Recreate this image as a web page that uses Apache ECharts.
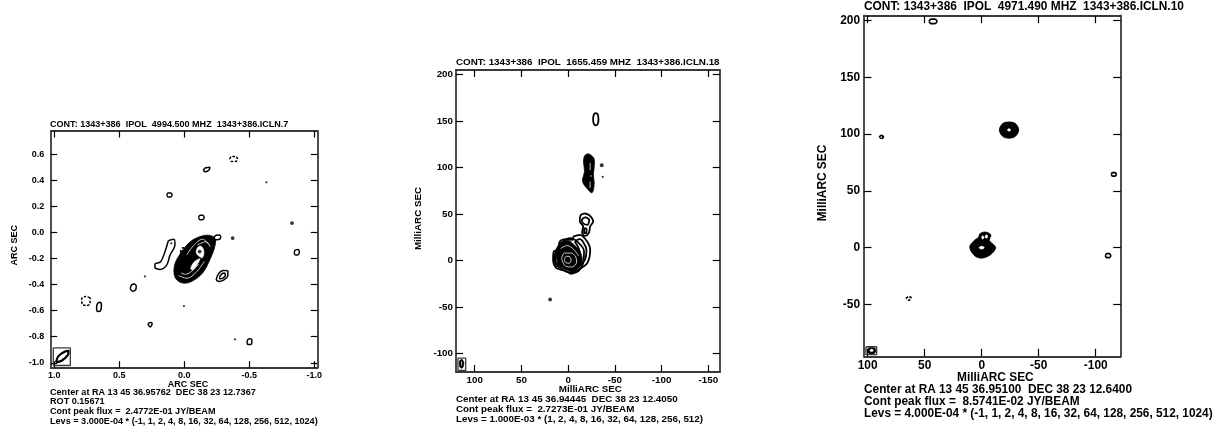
<!DOCTYPE html>
<html><head><meta charset="utf-8">
<style>html,body{margin:0;padding:0;background:#fff}#c{width:1219px;height:432px}</style>
<script src="https://cdn.jsdelivr.net/npm/echarts@6/dist/echarts.min.js"></script>
</head><body><div id="c"></div>
<script>
// ---------- tick values ----------
const p1XTicks = [1.0, 0.5, 0.0, -0.5, -1.0];
const p1YTicks = [0.6, 0.4, 0.2, 0.0, -0.2, -0.4, -0.6, -0.8, -1.0];
const p2XTicks = [100, 50, 0, -50, -100, -150];
const p2YTicks = [200, 150, 100, 50, 0, -50, -100];
const p3XTicks = [100, 50, 0, -50, -100];
const p3YTicks = [200, 150, 100, 50, 0, -50];

// ---------- text ----------
const p1Title = 'CONT: 1343+386  IPOL  4994.500 MHZ  1343+386.ICLN.7';
const p2Title = 'CONT: 1343+386  IPOL  1655.459 MHZ  1343+386.ICLN.18';
const p3Title = 'CONT: 1343+386  IPOL  4971.490 MHZ  1343+386.ICLN.10';
const p1Notes = ['Center at RA 13 45 36.95762  DEC 38 23 12.7367', 'ROT 0.15671', 'Cont peak flux =  2.4772E-01 JY/BEAM', 'Levs = 3.000E-04 * (-1, 1, 2, 4, 8, 16, 32, 64, 128, 256, 512, 1024)'];
const p2Notes = ['Center at RA 13 45 36.94445  DEC 38 23 12.4050', 'Cont peak flux =  2.7273E-01 JY/BEAM', 'Levs = 1.000E-03 * (1, 2, 4, 8, 16, 32, 64, 128, 256, 512)'];
const p3Notes = ['Center at RA 13 45 36.95100  DEC 38 23 12.6400', 'Cont peak flux =  8.5741E-02 JY/BEAM', 'Levs = 4.000E-04 * (-1, 1, 2, 4, 8, 16, 32, 64, 128, 256, 512, 1024)'];

// ---------- panel 1 contours (ARC SEC) ----------
const p1Lines = [
  [[-0.146,0.477],[-0.164,0.5],[-0.197,0.503],[-0.19,0.482],[-0.164,0.469]],
  [[0.135,0.29],[0.125,0.305],[0.105,0.305],[0.095,0.29],[0.105,0.275],[0.125,0.275]],
  [[-0.11,0.118],[-0.12,0.135],[-0.14,0.135],[-0.152,0.118],[-0.14,0.1],[-0.12,0.1]],
  [[-0.845,-0.155],[-0.855,-0.132],[-0.875,-0.13],[-0.885,-0.145],[-0.875,-0.17],[-0.855,-0.172]],
  [[-0.225,-0.04],[-0.245,-0.02],[-0.27,-0.018],[-0.28,-0.035],[-0.265,-0.053],[-0.24,-0.055]],
  [[0.416,-0.43],[0.405,-0.4],[0.385,-0.395],[0.37,-0.41],[0.375,-0.44],[0.398,-0.45]],
  [[0.64,-0.535],[0.665,-0.54],[0.675,-0.58],[0.665,-0.605],[0.645,-0.6],[0.638,-0.565]],
  [[0.28,-0.7],[0.265,-0.69],[0.248,-0.695],[0.25,-0.71],[0.262,-0.725],[0.272,-0.715]],
  [[-0.482,-0.845],[-0.49,-0.82],[-0.51,-0.815],[-0.52,-0.83],[-0.51,-0.86],[-0.49,-0.86]],
  [[-0.245,-0.365],[-0.26,-0.32],[-0.3,-0.29],[-0.335,-0.295],[-0.335,-0.33],[-0.3,-0.365],[-0.265,-0.375]],
  [[-0.27,-0.345],[-0.285,-0.32],[-0.31,-0.31],[-0.315,-0.33],[-0.295,-0.35],[-0.275,-0.355]],
  [[0.123,-0.062],[0.079,-0.051],[0.072,-0.095],[0.11,-0.172],[0.136,-0.249],[0.187,-0.282],[0.226,-0.267],[0.226,-0.241],[0.182,-0.223],[0.149,-0.146]]
];
const p1BeamShape = [[[0.987,-0.997],[0.969,-0.949],[0.918,-0.913],[0.89,-0.908],[0.897,-0.941],[0.944,-0.985]]];
const p1Dashed = [
  [[-0.349,0.567],[-0.364,0.586],[-0.394,0.586],[-0.409,0.567],[-0.394,0.548],[-0.364,0.548]],
  [[0.725,-0.5],[0.76,-0.49],[0.79,-0.51],[0.785,-0.55],[0.755,-0.56],[0.725,-0.545]],
  [[0.03,-0.15],[0.01,-0.115],[-0.015,-0.125],[-0.02,-0.155],[0,-0.175],[0.02,-0.17]],
  [[0.045,-0.222],[0.03,-0.21],[0.02,-0.22],[0.03,-0.235]]
];
const p1Solid = [
  [[-0.197,-0.021],[-0.236,-0.044],[-0.235,-0.105],[-0.2,-0.2],[-0.14,-0.31],[-0.05,-0.378],[0.021,-0.385],[0.072,-0.342],[0.075,-0.25],[0.03,-0.16],[-0.045,-0.07],[-0.133,-0.026]]
];
const p1Holes = [
  [[-0.105,-0.112],[-0.13,-0.105],[-0.15,-0.146],[-0.138,-0.192],[-0.113,-0.18],[-0.092,-0.155]],
  [[-0.049,-0.278],[-0.074,-0.228],[-0.118,-0.2],[-0.112,-0.222],[-0.088,-0.258],[-0.066,-0.284]]
];
const p1Gaps = [
  [[0.045,-0.33],[-0.02,-0.35],[-0.09,-0.305],[-0.155,-0.22]],
  [[0.025,-0.31],[-0.01,-0.32],[-0.07,-0.285],[-0.11,-0.24]],
  [[-0.19,-0.09],[-0.14,-0.05],[-0.07,-0.1],[-0.02,-0.17]],
  [[-0.2,-0.11],[-0.165,-0.07],[-0.1,-0.095]]
];
const p1DotsBig = [[-0.828,0.074],[-0.372,-0.041],[-0.118,-0.145]];
const p1DotsSmall = [[-0.631,0.387],[0.303,-0.336],[0.003,-0.564],[-0.39,-0.82],[0.1,-0.082]];
const p1Beam = [[1.008,-0.885],[0.877,-0.885],[0.877,-1.021],[1.008,-1.021],[1.008,-0.885]];

// ---------- panel 2 contours (MilliARC SEC) ----------
const p2Lines = [
  [[-26.7,152],[-27.5,157],[-29.6,158.5],[-31.7,157],[-32.5,152],[-31.7,147],[-29.6,145.5],[-27.5,147]],
  [[-17.9,50.7],[-23.2,48.4],[-26.8,41.9],[-23.6,36.6],[-22.1,29.4],[-17.9,26.5],[-15,30.1],[-16.1,36.6],[-12.5,41.9],[-13.2,48.4]],
  [[-17.9,46.6],[-22.5,43.7],[-20.7,38.4],[-16.1,40],[-14.6,43.7]],
  [[-17.1,34.8],[-19.6,34],[-19.6,29.4],[-17.1,29.4]],
  [[-5.4,25.8],[-12.5,27.6],[-19.6,21.5],[-23.6,11.5],[-20.4,-2.9],[-10.7,-10],[-3.6,-14.3],[3.6,-10.8],[12.5,-8.2],[16.1,0.7],[15.4,9.7],[10.7,11.5],[8.9,20.4],[1.8,22.9],[-4.6,22.2]],
  [[-7.1,20.4],[-12.5,22.9],[-16.8,18.6],[-19.6,11.5],[-17.9,0.7],[-10.7,-7.2],[-12.5,7.9]],
  [[14.3,7.9],[11.4,7.2],[10.7,-4.7],[13.6,-6.5]],
  [[12.5,12],[6,20],[-2,24],[-10,20],[-17,10],[-16,-3],[-8,-13],[2,-12],[11,-6],[14,3]]
];
const p2Solid = [
  [[-22.1,114.7],[-27.5,110],[-27.9,101],[-27,92],[-27.9,83],[-25.7,73],[-20.7,77],[-15.5,85],[-17.5,96],[-16.5,106.5],[-17.9,113]],
  [[9.5,18],[0,21.5],[-7.1,16],[-13.5,8],[-14.5,-3],[-6,-12],[1.8,-10],[9.5,-6],[12.5,4.3]],
  [[111.6,-110.8],[112.5,-107.5],[114.2,-106.5],[116,-108],[116.5,-112],[115.2,-115.5],[113,-115.5]]
];
const p2Gaps = [
  [[-23.6,105],[-23.6,97]],
  [[-24.5,92],[-24.5,90]],
  [[-23.5,85],[-23.5,78]],
  [[7,2],[4,8],[-3,8],[-8,4],[-9,-2],[-4,-7],[3,-6],[7,2]],
  [[4,1.5],[2,4.5],[-2,4],[-3,0],[-1,-3],[3,-2],[4,1.5]],
  [[8,13],[1,16],[-6,12],[-11,5]],
  [[114,-108.5],[114,-113]]
];
const p2DotsBig = [[-36,102.5],[19.3,-42]];
const p2DotsSmall = [[-37,90]];
const p2Beam = [[117.9,-105],[109.6,-105],[109.6,-118.3],[117.9,-118.3],[117.9,-105]];

// ---------- panel 3 contours (MilliARC SEC) ----------
const p3Lines = [
  [[46.2,199.4],[44.5,201.4],[41,201.4],[39.2,199.4],[41,197.4],[44.5,197.4]],
  [[89.8,97.5],[88,98.9],[86.2,97.5],[88,96.2]],
  [[-113.6,64.6],[-114.8,66.2],[-116.8,66.2],[-118,64.6],[-116.8,63],[-114.8,63]],
  [[-108.5,-7],[-109.7,-5.2],[-111.9,-5.2],[-113.1,-7],[-111.9,-8.8],[-109.7,-8.8]]
];
const p3Dashed = [
  [[66.3,-44.6],[64,-43],[61.7,-44.6],[64,-46.2]]
];
const p3Solid = [
  [[-15.5,103.7],[-17.5,108.5],[-21,110.5],[-27,110.5],[-30.5,108.5],[-32.5,103.7],[-30.5,99],[-27,96.8],[-21,96.8],[-17.5,99]],
  [[10.5,0.9],[6,6.8],[2.6,9.3],[1.8,12],[-2.9,13.8],[-8,11.4],[-6.8,6.4],[-12.2,0.3],[-8,-6],[0,-9.2],[6.5,-6.8]],
  [[92.8,-90.5],[94.5,-88],[98.5,-88],[100.5,-90.5],[98.5,-93.4],[94.5,-93.4]]
];
const p3Holes = [
  [[-22.6,103.7],[-24,104.7],[-25.4,103.7],[-24,102.7]],
  [[2.2,0],[0,1.2],[-2.2,0],[0,-1.2]],
  [[0,9.5],[-1.2,10.4],[-2,9],[-0.8,7.6]],
  [[-3.4,10.8],[-4.8,11],[-5,9],[-3.6,8.6]],
  [[95,-90.5],[96.5,-89.5],[98,-90.5],[96.5,-91.5]]
];
const p3Beam = [[101.5,-87.3],[92.1,-87.3],[92.1,-94.3],[101.5,-94.3],[101.5,-87.3]];

// ---------- builders ----------
const FONT = '"Liberation Sans", Arial, sans-serif';
const INK = '#000', FRAME = '#3a3a3a';
const grids = [], xAxes = [], yAxes = [], series = [], titles = [];

function text(str, left, centerY, size) {
  titles.push({ text: str, left, top: centerY - (size + 1) / 2, padding: 0, textStyle: { fontFamily: FONT, fontWeight: 'bold', fontSize: size, color: INK, lineHeight: size + 1 } });
}
function addPanel(cfg) {
  const idx = grids.length;
  grids.push({ left: cfg.l, top: cfg.t, width: cfg.r - cfg.l, height: cfg.b - cfg.t, show: false });
  const fmt = cfg.dec ? (v => Number(v).toFixed(cfg.dec)) : (v => String(v));
  const line = { show: true, onZero: false, lineStyle: { color: FRAME, width: 1.8 } };
  const tick = (vals, len) => ({ show: true, inside: true, length: len, customValues: vals, lineStyle: { color: INK, width: 1.2 } });
  const lab = (vals, m) => ({ show: true, customValues: vals, formatter: fmt, fontFamily: FONT, fontWeight: 'bold', fontSize: cfg.fs, color: INK, margin: m });
  const base = { type: 'value', gridIndex: idx, splitLine: { show: false } };
  const nameStyle = { fontFamily: FONT, fontWeight: 'bold', fontSize: cfg.fs, color: INK, padding: [0, 0, 0, cfg.namePad] };
  xAxes.push(Object.assign({}, base, { position: 'bottom', inverse: true, min: cfg.xMin, max: cfg.xMax, axisLine: line, axisTick: tick(cfg.xT, cfg.tl), axisLabel: lab(cfg.xT, cfg.xM),
    name: cfg.xName, nameLocation: 'middle', nameGap: cfg.xGap, nameMoveOverlap: false, nameTextStyle: nameStyle }));
  xAxes.push(Object.assign({}, base, { position: 'top', inverse: true, min: cfg.xMin, max: cfg.xMax, axisLine: line, axisTick: tick(cfg.xT, cfg.tl), axisLabel: { show: false } }));
  yAxes.push(Object.assign({}, base, { position: 'left', min: cfg.yMin, max: cfg.yMax, axisLine: line, axisTick: tick(cfg.yT, cfg.tl), axisLabel: lab(cfg.yT, cfg.yM),
    name: cfg.yName, nameLocation: 'middle', nameGap: cfg.yGap, nameMoveOverlap: false, nameRotate: 90, nameTextStyle: nameStyle }));
  yAxes.push(Object.assign({}, base, { position: 'right', min: cfg.yMin, max: cfg.yMax, axisLine: line, axisTick: tick(cfg.yT, cfg.tl), axisLabel: { show: false } }));
  const ax = { xAxisIndex: idx * 2, yAxisIndex: idx * 2 };

  const lineS = (pts, o) => Object.assign({ type: 'line', data: pts, showSymbol: false, silent: true, animation: false, smooth: o.smooth === undefined ? 0.35 : o.smooth,
    z: o.z, lineStyle: { color: o.color || INK, width: o.width, type: o.dash || 'solid' } }, ax);
  const closed = pts => pts.concat([pts[0]]);
  const poly = (pts, fill, z) => Object.assign({ type: 'custom', data: pts, silent: true, animation: false, z, clip: false,
    renderItem: (params, api) => params.dataIndex !== 0 ? null : ({ type: 'polygon', shape: { points: pts.map(p => api.coord(p)), smooth: 0.35 }, style: { fill, stroke: fill, lineWidth: 0.8 } }) }, ax);

  (cfg.solid || []).forEach(p => series.push(poly(p, INK, 3)));
  (cfg.holes || []).forEach(p => series.push(poly(p, '#fff', 4)));
  (cfg.lines || []).forEach(p => series.push(lineS(closed(p), { width: cfg.lw, z: 3 })));
  (cfg.beamShape || []).forEach(p => series.push(lineS(closed(p), { width: 2.2, z: 3 })));
  (cfg.dashed || []).forEach(p => series.push(lineS(closed(p), { width: cfg.lw, z: 3, dash: [2.5, 1.5] })));
  (cfg.gaps || []).forEach(p => series.push(lineS(p, { width: 0.8, z: 5, color: '#fff' })));
  series.push(lineS(cfg.beam, { width: 1.3, z: 3, color: FRAME, smooth: 0 }));
  const dots = (d, s) => series.push(Object.assign({ type: 'scatter', data: d, symbol: 'circle', symbolSize: s, silent: true, animation: false, z: 6, itemStyle: { color: INK } }, ax));
  if (cfg.big) dots(cfg.big, 3.8);
  if (cfg.small) dots(cfg.small, 2.2);
}

addPanel({ l: 50.7, r: 317.3, t: 131, b: 367.7, xMin: -1.023, xMax: 1.028, yMin: -1.038, yMax: 0.782, xT: p1XTicks, yT: p1YTicks, dec: 1, fs: 9, xM: 3, yM: 6.5, tl: 6.5, lw: 1.5, namePad: 8,
  xName: 'ARC SEC', xGap: 12, yName: 'ARC SEC', yGap: 32, lines: p1Lines, beamShape: p1BeamShape, dashed: p1Dashed, solid: p1Solid, holes: p1Holes, gaps: p1Gaps, big: p1DotsBig, small: p1DotsSmall, beam: p1Beam });
addPanel({ l: 456, r: 719.7, t: 70, b: 372, xMin: -162.2, xMax: 120, yMin: -120, yMax: 205, xT: p2XTicks, yT: p2YTicks, fs: 9.8, xM: 3, yM: 3, tl: 7, lw: 1.8, namePad: 5,
  xName: 'MilliARC SEC', xGap: 12, yName: 'MilliARC SEC', yGap: 33, lines: p2Lines, solid: p2Solid, gaps: p2Gaps, big: p2DotsBig, small: p2DotsSmall, beam: p2Beam });
addPanel({ l: 864, r: 1120.7, t: 15.7, b: 356.3, xMin: -121.9, xMax: 103.2, yMin: -95.7, yMax: 204.4, xT: p3XTicks, yT: p3YTicks, fs: 11.9, xM: 3.5, yM: 4, tl: 7.5, lw: 1.7, namePad: 6,
  xName: 'MilliARC SEC', xGap: 15, yName: 'MilliARC SEC', yGap: 35, lines: p3Lines, dashed: p3Dashed, solid: p3Solid, holes: p3Holes, beam: p3Beam });

text(p1Title, 50, 125, 9.05);
text(p2Title, 456, 62.7, 9.8);
text(p3Title, 864, 7, 11.9);
[392.7, 401.9, 411.7, 421].forEach((y, i) => text(p1Notes[i], 50, y, 9.1));
[399, 409, 419].forEach((y, i) => text(p2Notes[i], 456, y, 9.8));
[390, 401.7, 414].forEach((y, i) => text(p3Notes[i], 864, y, 11.85));

const chart = echarts.init(document.getElementById('c'));
chart.setOption({ animation: false, backgroundColor: '#fff', title: titles, grid: grids, xAxis: xAxes, yAxis: yAxes, series });
</script>
</body></html>
